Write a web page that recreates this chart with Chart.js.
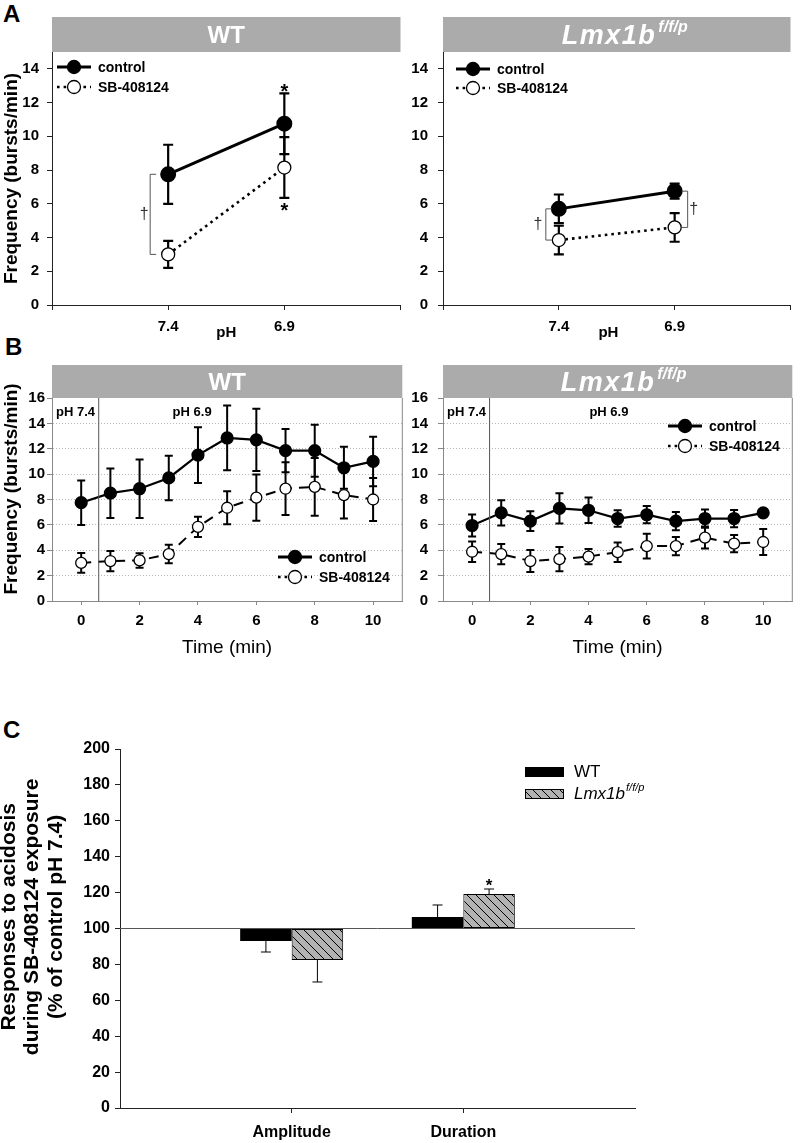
<!DOCTYPE html>
<html>
<head>
<meta charset="utf-8">
<title>SB-408124 and responses to acidosis</title>
<script src="https://cdn.jsdelivr.net/npm/chart.js@4.4.1/dist/chart.umd.min.js"></script>
<style>
  body { margin: 0; background: #fff; }
  #page { position: relative; width: 800px; height: 1143px; overflow: hidden; font-family: "Liberation Sans", Arial, sans-serif; }
  #page canvas { position: absolute; }
  .tag { position: absolute; font-weight: bold; font-size: 24px; line-height: 24px; }
</style>
</head>
<body>
<div id="page">
  <div class="tag" style="left:3px;top:2px">A</div>
  <div class="tag" style="left:5px;top:335px">B</div>
  <div class="tag" style="left:3px;top:718px">C</div>
  <canvas id="aWt" width="410" height="345" style="left:0;top:0"></canvas>
  <canvas id="aLmx" width="390" height="345" style="left:410px;top:0"></canvas>
  <canvas id="bWt" width="410" height="345" style="left:0;top:320px"></canvas>
  <canvas id="bLmx" width="390" height="345" style="left:410px;top:320px"></canvas>
  <canvas id="cBars" width="800" height="463" style="left:0;top:680px"></canvas>
</div>
<script>
"use strict";

const FONT = '"Liberation Sans", Arial, Helvetica, sans-serif';
Chart.defaults.font.family = FONT;
Chart.defaults.color = "#000";

const seriesNames = ["control", "SB-408124"];

// A - burst frequency at pH 7.4 / 6.9
const phLabels = ["7.4", "6.9"];
const freqTicksA = [0, 2, 4, 6, 8, 10, 12, 14];
const wtCtrlA = [7.75, 10.75];
const wtCtrlErrA = [1.75, 1.8];
const wtSbA = [3.0, 8.15];
const wtSbErrA = [0.8, 1.8];
const lmxCtrlA = [5.7, 6.75];
const lmxCtrlErrA = [0.85, 0.45];
const lmxSbA = [3.85, 4.6];
const lmxSbErrA = [0.85, 0.85];

// B - time course
const minutes = [0, 1, 2, 3, 4, 5, 6, 7, 8, 9, 10];
const minuteTicks = [0, 2, 4, 6, 8, 10];
const freqTicksB = [0, 2, 4, 6, 8, 10, 12, 14, 16];
const wtCtrlB = [7.75, 8.5, 8.85, 9.7, 11.5, 12.85, 12.7, 11.85, 11.85, 10.5, 11.0];
const wtCtrlErrB = [1.75, 1.95, 2.3, 1.75, 2.2, 2.55, 2.45, 1.7, 2.05, 1.65, 1.95];
const wtSbB = [3.0, 3.15, 3.2, 3.7, 5.85, 7.35, 8.15, 8.85, 9.0, 8.35, 8.0];
const wtSbErrB = [0.78, 0.8, 0.57, 0.73, 0.8, 1.3, 1.83, 2.08, 2.28, 1.85, 1.7];
const lmxCtrlB = [5.95, 6.95, 6.3, 7.3, 7.15, 6.5, 6.8, 6.3, 6.5, 6.5, 6.95];
const lmxCtrlErrB = [0.87, 1.0, 0.78, 1.2, 1.0, 0.65, 0.68, 0.72, 0.72, 0.68, 0.3];
const lmxSbB = [3.88, 3.7, 3.15, 3.3, 3.5, 3.85, 4.33, 4.33, 5.0, 4.52, 4.65];
const lmxSbErrB = [0.8, 0.8, 0.87, 0.95, 0.6, 0.77, 0.98, 0.72, 0.87, 0.68, 1.03];
const switchMinute = 0.6;

// C - % of control pH 7.4
const measures = ["Amplitude", "Duration"];
const groupNames = ["WT", "Lmx1b"];
const pctTicks = [0, 20, 40, 60, 80, 100, 120, 140, 160, 180, 200];
const wtPct = [93.0, 106.4];
const wtPctErr = [6.1, 6.7];
const lmxPct = [82.5, 119.2];
const lmxPctErr = [12.3, 2.8];

const pad = arr => [null, ...arr, null];
const pts = vals => minutes.map((m, i) => ({ x: m, y: vals[i] }));

// error bars, drawn under the markers
const errorBars = {
    id: "errorBars",
    beforeDatasetsDraw(chart) {
        const ctx = chart.ctx;
        const ys = chart.scales.y;
        chart.data.datasets.forEach((ds, di) => {
            if (!ds.errors) return;
            const meta = chart.getDatasetMeta(di);
            ctx.save();
            ctx.strokeStyle = "#000";
            ctx.lineWidth = ds.errWidth || 1.5;
            meta.data.forEach((el, i) => {
                const raw = ds.data[i];
                const v = raw == null ? null : (typeof raw === "object" ? raw.y : raw);
                const e = ds.errors[i];
                if (v == null || e == null) return;
                let hi = v + e, lo = v - e;
                const up = v >= (ds.base || 0);
                if (ds.errAway) { if (up) lo = v; else hi = v; }
                const x = el.x, yh = ys.getPixelForValue(hi), yl = ys.getPixelForValue(lo);
                const c = ds.capHalf || 4;
                ctx.beginPath();
                ctx.moveTo(x, yh); ctx.lineTo(x, yl);
                if (!ds.errAway || up) { ctx.moveTo(x - c, yh); ctx.lineTo(x + c, yh); }
                if (!ds.errAway || !up) { ctx.moveTo(x - c, yl); ctx.lineTo(x + c, yl); }
                ctx.stroke();
            });
            ctx.restore();
        });
    },
};

function header(chart, h, main, sup, shift) {
    const { ctx, chartArea: a } = chart;
    ctx.save();
    ctx.fillStyle = "#ababab";
    ctx.fillRect(a.left, a.top - h, a.right - a.left, h);
    ctx.fillStyle = "#fff";
    const mainFont = sup ? "italic bold 27px " + FONT : "bold 24px " + FONT;
    const supFont = "italic bold 16px " + FONT;
    const spacing = sup ? "1.5px" : "0px";
    ctx.font = mainFont;
    ctx.letterSpacing = spacing;
    const w1 = ctx.measureText(main).width;
    let w2 = 0;
    if (sup) { ctx.font = supFont; ctx.letterSpacing = "0px"; w2 = ctx.measureText(sup).width + 2; }
    const x0 = (a.left + a.right) / 2 + (shift || 0) - (w1 + w2) / 2;
    const base = a.top - h / 2 + (sup ? 9.5 : 8.5);
    ctx.textAlign = "left";
    ctx.textBaseline = "alphabetic";
    ctx.font = mainFont;
    ctx.letterSpacing = spacing;
    ctx.fillText(main, x0, base);
    if (sup) {
        ctx.font = supFont;
        ctx.letterSpacing = "0px";
        ctx.fillText(sup, x0 + w1 + 2, base - 12);
    }
    ctx.restore();
}

const keyStyles = [
    { lw: 3, dash: [], fill: "#000" },
    { lw: 2.6, dash: [2.6, 4], fill: "#fff" },
];

function seriesKey(chart, dx, dy, gap) {
    const { ctx, chartArea: a } = chart;
    ctx.save();
    seriesNames.forEach((name, i) => {
        const s = keyStyles[i];
        const x = a.left + dx, y = a.top + dy + i * gap;
        ctx.strokeStyle = "#000";
        ctx.lineWidth = s.lw;
        ctx.setLineDash(s.dash);
        ctx.beginPath(); ctx.moveTo(x, y); ctx.lineTo(x + 34, y); ctx.stroke();
        ctx.setLineDash([]);
        ctx.lineWidth = 1.3;
        ctx.beginPath(); ctx.arc(x + 17, y, 6.5, 0, Math.PI * 2);
        ctx.fillStyle = s.fill; ctx.fill(); ctx.stroke();
        ctx.fillStyle = "#000";
        ctx.font = "bold 14px " + FONT;
        ctx.textAlign = "left";
        ctx.textBaseline = "middle";
        ctx.fillText(name, x + 41, y + 1);
    });
    ctx.restore();
}

function bracket(chart, x, v1, v2, dir, daggerDx) {
    const ctx = chart.ctx, ys = chart.scales.y;
    const y1 = ys.getPixelForValue(v1), y2 = ys.getPixelForValue(v2);
    ctx.save();
    ctx.strokeStyle = "#555";
    ctx.lineWidth = 1;
    ctx.beginPath();
    ctx.moveTo(x + dir * 6, y1); ctx.lineTo(x, y1); ctx.lineTo(x, y2); ctx.lineTo(x + dir * 6, y2);
    ctx.stroke();
    ctx.fillStyle = "#333";
    ctx.font = "16px " + FONT;
    ctx.textAlign = "center";
    ctx.textBaseline = "middle";
    ctx.fillText("\u2020", x + daggerDx, (y1 + y2) / 2);
    ctx.restore();
}

function star(chart, x, yc, size) {
    const ctx = chart.ctx;
    ctx.save();
    ctx.fillStyle = "#000";
    ctx.font = "bold " + size + "px " + FONT;
    ctx.textAlign = "center";
    ctx.textBaseline = "alphabetic";
    ctx.fillText("*", x, yc + 0.6 * size);
    ctx.restore();
}

function freqVsPh(id, ctrl, ctrlErr, sb, sbErr, o) {
    return new Chart(document.getElementById(id), {
        type: "line",
        data: {
            labels: ["", ...phLabels, ""],
            datasets: [
                {
                    label: seriesNames[0], data: pad(ctrl), errors: pad(ctrlErr),
                    borderColor: "#000", borderWidth: 3,
                    pointRadius: 6.5, pointBackgroundColor: "#000", pointBorderColor: "#000",
                    errWidth: 2.2, capHalf: 5,
                },
                {
                    label: seriesNames[1], data: pad(sb), errors: pad(sbErr),
                    borderColor: "#000", borderWidth: 2.6, borderDash: [2.6, 4],
                    pointRadius: 6.5, pointBackgroundColor: "#fff", pointBorderColor: "#000", pointBorderWidth: 1.3,
                    errWidth: 2.2, capHalf: 5,
                },
            ],
        },
        options: {
            responsive: false,
            animation: false,
            layout: { padding: { top: 52, right: o.padRight, left: 0, bottom: 0 } },
            plugins: { legend: { display: false }, tooltip: { enabled: false } },
            scales: {
                x: {
                    type: "category",
                    offset: false,
                    grid: { drawOnChartArea: false, offset: false, tickLength: 5, tickColor: "#222" },
                    border: { color: "#222" },
                    ticks: { font: { weight: "bold", size: 15 }, padding: 8, autoSkip: false, maxRotation: 0 },
                    title: { display: true, text: o.phTitle, font: { weight: "bold", size: 15 }, padding: { bottom: 3 } },
                    afterFit: s => { s.height = 40; },
                },
                y: {
                    min: 0, max: 15,
                    afterBuildTicks: s => { s.ticks = freqTicksA.map(v => ({ value: v })); },
                    grid: { drawOnChartArea: false, tickLength: 5, tickColor: "#222" },
                    border: { color: "#222" },
                    ticks: { font: { weight: "bold", size: 15 }, padding: o.tickPad },
                    title: { display: o.yTitle, text: "Frequency (bursts/min)", font: { weight: "bold", size: 19 }, padding: { top: 0 } },
                    afterFit: s => { s.width = o.yWidth; },
                },
            },
        },
        plugins: [errorBars, { id: "decorA", afterDraw: c => o.decor(c) }],
    });
}

function freqVsTime(id, ctrl, ctrlErr, sb, sbErr, o) {
    return new Chart(document.getElementById(id), {
        type: "line",
        data: {
            datasets: [
                {
                    label: seriesNames[0], data: pts(ctrl), errors: ctrlErr,
                    borderColor: "#000", borderWidth: 2.2,
                    pointRadius: 5.5, pointBackgroundColor: "#000", pointBorderColor: "#000",
                    errWidth: 2, capHalf: 4,
                },
                {
                    label: seriesNames[1], data: pts(sb), errors: sbErr,
                    borderColor: "#000", borderWidth: 2, borderDash: [10, 7],
                    pointRadius: 5.5, pointBackgroundColor: "#fff", pointBorderColor: "#000", pointBorderWidth: 1.3,
                    errWidth: 2, capHalf: 4,
                },
            ],
        },
        options: {
            responsive: false,
            animation: false,
            layout: { padding: { top: 78, right: o.padRight, left: 0, bottom: 0 } },
            plugins: { legend: { display: false }, tooltip: { enabled: false } },
            scales: {
                x: {
                    type: "linear", min: -1, max: 11,
                    afterBuildTicks: s => { s.ticks = minuteTicks.map(v => ({ value: v })); },
                    grid: { drawOnChartArea: false, tickLength: 4, tickColor: "#888" },
                    border: { color: "#888" },
                    ticks: { font: { weight: "bold", size: 15 }, padding: 7, maxRotation: 0 },
                    title: { display: true, text: "Time (min)", font: { size: 19 }, padding: { bottom: 6 } },
                    afterFit: s => { s.height = 64; },
                },
                y: {
                    min: 0, max: 16,
                    afterBuildTicks: s => { s.ticks = freqTicksB.map(v => ({ value: v })); },
                    grid: {
                        color: c => (c.tick && (c.tick.value === 0 || c.tick.value === 16)) ? "rgba(0,0,0,0)" : "#b8b8b8",
                        tickLength: 5, tickColor: "#888",
                    },
                    border: { color: "#888", dash: [1, 2] },
                    ticks: { font: { weight: "bold", size: 15 }, padding: o.tickPad },
                    title: { display: o.yTitle, text: "    Frequency (bursts/min)", font: { weight: "bold", size: 19 }, padding: { top: 0 } },
                    afterFit: s => { s.width = o.yWidth; },
                },
            },
        },
        plugins: [errorBars, {
            id: "decorB",
            afterDraw(c) {
                const { ctx, chartArea: a, scales } = c;
                ctx.save();
                ctx.strokeStyle = "#888";
                ctx.lineWidth = 1;
                ctx.beginPath(); ctx.moveTo(a.right, a.top); ctx.lineTo(a.right, a.bottom); ctx.stroke();
                const xs = scales.x.getPixelForValue(switchMinute);
                ctx.strokeStyle = "#555";
                ctx.beginPath(); ctx.moveTo(xs, a.top); ctx.lineTo(xs, a.bottom); ctx.stroke();
                ctx.fillStyle = "#000";
                ctx.font = "bold 13px " + FONT;
                ctx.textBaseline = "middle";
                ctx.textAlign = "left";
                ctx.fillText("pH 7.4", a.left + 4, a.top + 14);
                ctx.textAlign = "center";
                ctx.fillText("pH 6.9", scales.x.getPixelForValue(o.acidLabelAt), a.top + 14);
                ctx.restore();
                header(c, 33, o.head, o.sup, o.headShift);
                seriesKey(c, o.keyX, o.keyY, 20);
            },
        }],
    });
}

freqVsPh("aWt", wtCtrlA, wtCtrlErrA, wtSbA, wtSbErrA, {
    padRight: 4, yWidth: 52, tickPad: 8, yTitle: true, phTitle: "pH",
    decor(c) {
        header(c, 35, "WT", null, 0);
        seriesKey(c, 5, 15, 20);
        const x1 = c.scales.x.getPixelForValue(1), x2 = c.scales.x.getPixelForValue(2);
        const ys = c.scales.y;
        bracket(c, x1 - 18, wtCtrlA[0], wtSbA[0], 1, -6);
        star(c, x2, ys.getPixelForValue(wtCtrlA[1] + wtCtrlErrA[1]) - 7, 20);
        star(c, x2, ys.getPixelForValue(wtSbA[1] - wtSbErrA[1]) + 7, 20);
    },
});

freqVsPh("aLmx", lmxCtrlA, lmxCtrlErrA, lmxSbA, lmxSbErrA, {
    padRight: 2, yWidth: 33, tickPad: 10, yTitle: false, phTitle: "pH    ",
    decor(c) {
        header(c, 35, "Lmx1b", "f/f/p", 8);
        seriesKey(c, 13, 17, 19);
        const x1 = c.scales.x.getPixelForValue(1), x2 = c.scales.x.getPixelForValue(2);
        bracket(c, x1 - 13, lmxCtrlA[0], lmxSbA[0], 1, -8);
        bracket(c, x2 + 13, lmxCtrlA[1], lmxSbA[1], -1, 6);
    },
});

freqVsTime("bWt", wtCtrlB, wtCtrlErrB, wtSbB, wtSbErrB, {
    padRight: 4, yWidth: 52, tickPad: 2, yTitle: true,
    head: "WT", sup: null, headShift: 0, acidLabelAt: 3.8, keyX: 226, keyY: 159,
});

freqVsTime("bLmx", lmxCtrlB, lmxCtrlErrB, lmxSbB, lmxSbErrB, {
    padRight: 2, yWidth: 33, tickPad: 10, yTitle: false,
    head: "Lmx1b", sup: "f/f/p", headShift: 6, acidLabelAt: 4.7, keyX: 225, keyY: 28,
});

// hatched fill for the Lmx1b bars
function hatchPattern() {
    const t = document.createElement("canvas");
    t.width = 9; t.height = 9;
    const g = t.getContext("2d");
    g.fillStyle = "#b2b2b2";
    g.fillRect(0, 0, 9, 9);
    g.strokeStyle = "#000";
    g.lineWidth = 1;
    g.beginPath();
    g.moveTo(-1, -1); g.lineTo(10, 10);
    g.moveTo(-1, 8); g.lineTo(1, 10);
    g.moveTo(8, -1); g.lineTo(10, 1);
    g.stroke();
    return g.createPattern(t, "repeat");
}
const hatch = hatchPattern();

new Chart(document.getElementById("cBars"), {
    type: "bar",
    data: {
        labels: ["", ...measures, ""],
        datasets: [
            {
                label: groupNames[0], data: pad(wtPct), errors: pad(wtPctErr),
                base: 100, backgroundColor: "#000", borderWidth: 0,
                errAway: true, errWidth: 1, capHalf: 5,
            },
            {
                label: groupNames[1], data: pad(lmxPct), errors: pad(lmxPctErr),
                base: 100, backgroundColor: hatch, borderColor: "#000", borderWidth: 1, borderSkipped: false,
                errAway: true, errWidth: 1, capHalf: 5,
            },
        ],
    },
    options: {
        responsive: false,
        animation: false,
        layout: { padding: { top: 69, right: 165, left: 0, bottom: 0 } },
        datasets: { bar: { categoryPercentage: 0.6, barPercentage: 1.0 } },
        plugins: { legend: { display: false }, tooltip: { enabled: false } },
        scales: {
            x: {
                type: "category",
                offset: false,
                grid: {
                    drawOnChartArea: false, offset: false, tickLength: 5,
                    tickColor: c => (c.index === 1 || c.index === 2) ? "#222" : "rgba(0,0,0,0)",
                },
                border: { color: "#222" },
                ticks: { font: { weight: "bold", size: 16 }, padding: 10, autoSkip: false, maxRotation: 0 },
                afterFit: s => { s.height = 35; },
            },
            y: {
                min: 0, max: 200,
                afterBuildTicks: s => { s.ticks = pctTicks.map(v => ({ value: v })); },
                grid: { drawOnChartArea: false, tickLength: 5, tickColor: "#222" },
                border: { color: "#222" },
                ticks: { font: { weight: "bold", size: 16 }, padding: 5 },
                title: {
                    display: true,
                    text: ["    Responses to acidosis", "    during SB-408124 exposure", "    (% of control pH 7.4)"],
                    font: { weight: "bold", size: 21, lineHeight: 1.12 },
                    padding: { top: -3 },
                },
                afterFit: s => { s.width = 120; },
            },
        },
    },
    plugins: [errorBars, {
        id: "decorC",
        beforeDatasetsDraw(c) {
            const { ctx, chartArea: a, scales } = c;
            const y100 = scales.y.getPixelForValue(100);
            ctx.save();
            ctx.strokeStyle = "#555";
            ctx.lineWidth = 1;
            ctx.beginPath(); ctx.moveTo(a.left, y100); ctx.lineTo(a.right, y100); ctx.stroke();
            ctx.restore();
        },
        afterDraw(c) {
            const { ctx, chartArea: a, scales } = c;
            const lmxDur = c.getDatasetMeta(1).data[2];
            star(c, lmxDur.x, scales.y.getPixelForValue(lmxPct[1] + lmxPctErr[1]) - 8, 17);
            ctx.save();
            const kx = a.left + 405;
            [0, 1].forEach(i => {
                const ky = a.top + 18 + i * 22;
                ctx.fillStyle = i === 0 ? "#000" : hatch;
                ctx.fillRect(kx, ky, 39, 10);
                if (i === 1) { ctx.strokeStyle = "#000"; ctx.lineWidth = 1; ctx.strokeRect(kx + 0.5, ky + 0.5, 38, 9); }
                ctx.fillStyle = "#000";
                ctx.textAlign = "left";
                ctx.textBaseline = "middle";
                ctx.font = (i === 1 ? "italic " : "") + "17px " + FONT;
                ctx.fillText(groupNames[i], kx + 49, ky + 5);
                if (i === 1) {
                    const w = ctx.measureText(groupNames[i]).width;
                    ctx.font = "italic 11px " + FONT;
                    ctx.fillText("f/f/p", kx + 50 + w, ky - 1);
                }
            });
            ctx.restore();
        },
    }],
});
</script>
</body>
</html>
